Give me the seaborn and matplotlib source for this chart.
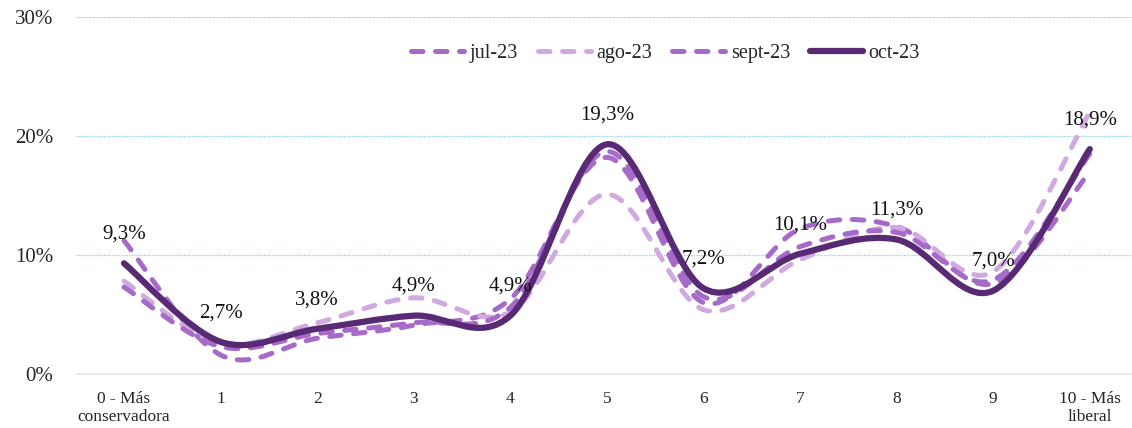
import matplotlib
matplotlib.use("Agg")
import matplotlib.pyplot as plt
import seaborn as sns
from matplotlib.path import Path
from matplotlib.patches import PathPatch
from matplotlib.lines import Line2D

# ----------------------------
# Data
# ----------------------------
categories = ["0 - Más\nconservadora", "1", "2", "3", "4", "5", "6", "7", "8", "9", "10 - Más\nliberal"]
jul_23 = [11.2, 1.6, 3.0, 4.1, 6.3, 18.2, 6.0, 12.2, 12.4, 7.6, 17.0]
ago_23 = [7.8, 2.6, 4.3, 6.4, 5.2, 15.1, 5.4, 9.6, 12.3, 8.6, 22.0]
sept_23 = [7.3, 2.3, 3.4, 4.3, 5.6, 18.7, 6.5, 10.7, 11.9, 7.9, 18.5]
oct_23 = [9.3, 2.7, 3.8, 4.9, 4.9, 19.3, 7.2, 10.1, 11.3, 7.0, 18.9]

series_names = ["jul-23", "ago-23", "sept-23", "oct-23"]
series_values = [jul_23, ago_23, sept_23, oct_23]

colors = {"jul-23": "#A66BC8", "ago-23": "#D0A9E0", "sept-23": "#A66BC8", "oct-23": "#592A74"}
dashed = (0, (2.3, 2.5))

sns.set_style("white")
plt.rcParams["font.family"] = ["Liberation Serif", "DejaVu Serif"]


def smooth_path(xs, ys):
    # Excel-style smoothed line: cubic Bezier through every data point
    pts = list(zip(xs, ys))
    verts = [pts[0]]
    codes = [Path.MOVETO]
    n = len(pts)
    for i in range(n - 1):
        p0 = pts[i - 1] if i > 0 else pts[i]
        p1 = pts[i]
        p2 = pts[i + 1]
        p3 = pts[i + 2] if i + 2 < n else pts[i + 1]
        c1 = (p1[0] + (p2[0] - p0[0]) / 6, p1[1] + (p2[1] - p0[1]) / 6)
        c2 = (p2[0] - (p3[0] - p1[0]) / 6, p2[1] - (p3[1] - p1[1]) / 6)
        verts += [c1, c2, p2]
        codes += [Path.CURVE4] * 3
    return Path(verts, codes)


fig = plt.figure(figsize=(11.32, 4.28), dpi=100)
ax = fig.add_axes([0.0669, 0.1262, 0.9385, 0.8341])

xs = list(range(len(categories)))
handles = []
for name, vals in zip(series_names, series_values):
    ys = [v / 100 for v in vals]
    solid = name == "oct-23"
    lw = 4.5 if solid else 3.6
    ls = "-" if solid else dashed
    patch = PathPatch(smooth_path(xs, ys), facecolor="none", edgecolor=colors[name],
                      lw=lw, linestyle=ls, capstyle="round", joinstyle="round",
                      zorder=4 if solid else 3)
    ax.add_patch(patch)
    handles.append(Line2D([], [], color=colors[name], lw=lw, linestyle=ls,
                          solid_capstyle="round", dash_capstyle="round"))

# data labels for oct-23
for x, v in zip(xs, oct_23):
    ax.annotate(f"{v:.1f}%".replace(".", ","), (x, v / 100), xytext=(0, 21),
                textcoords="offset points", ha="center", va="center",
                fontsize=15, color="#111111", zorder=5)

ax.set_xlim(-0.5, len(categories) - 0.5)
ax.set_ylim(0, 0.30)
ax.set_yticks([0, 0.1, 0.2, 0.3])
ax.set_yticklabels(["0%", "10%", "20%", "30%"], fontsize=15)
ax.set_xticks(xs)
ax.set_xticklabels(categories, fontsize=12.5, linespacing=1.2)
ax.set_xticks([x + 0.5 for x in xs[:-1]], minor=True)
ax.tick_params(axis="x", which="major", length=0, pad=12)
ax.tick_params(axis="x", which="minor", length=4, color="#E6E6E6", direction="out")
ax.tick_params(axis="y", length=0, pad=16)

ax.yaxis.grid(True, color="#7FD3EA", linestyle=(0, (1, 1)), lw=0.9)
ax.set_axisbelow(True)
sns.despine(ax=ax, left=True)
ax.spines["bottom"].set_color("#E6E6E6")
ax.spines["bottom"].set_linewidth(1.2)

fig.legend(handles, series_names, loc="center", bbox_to_anchor=(0.588, 0.876),
           ncol=4, frameon=False, fontsize=14.5, handlelength=2.6, handletextpad=0.3,
           columnspacing=1.0)

fig.savefig("out.png", dpi=100)
